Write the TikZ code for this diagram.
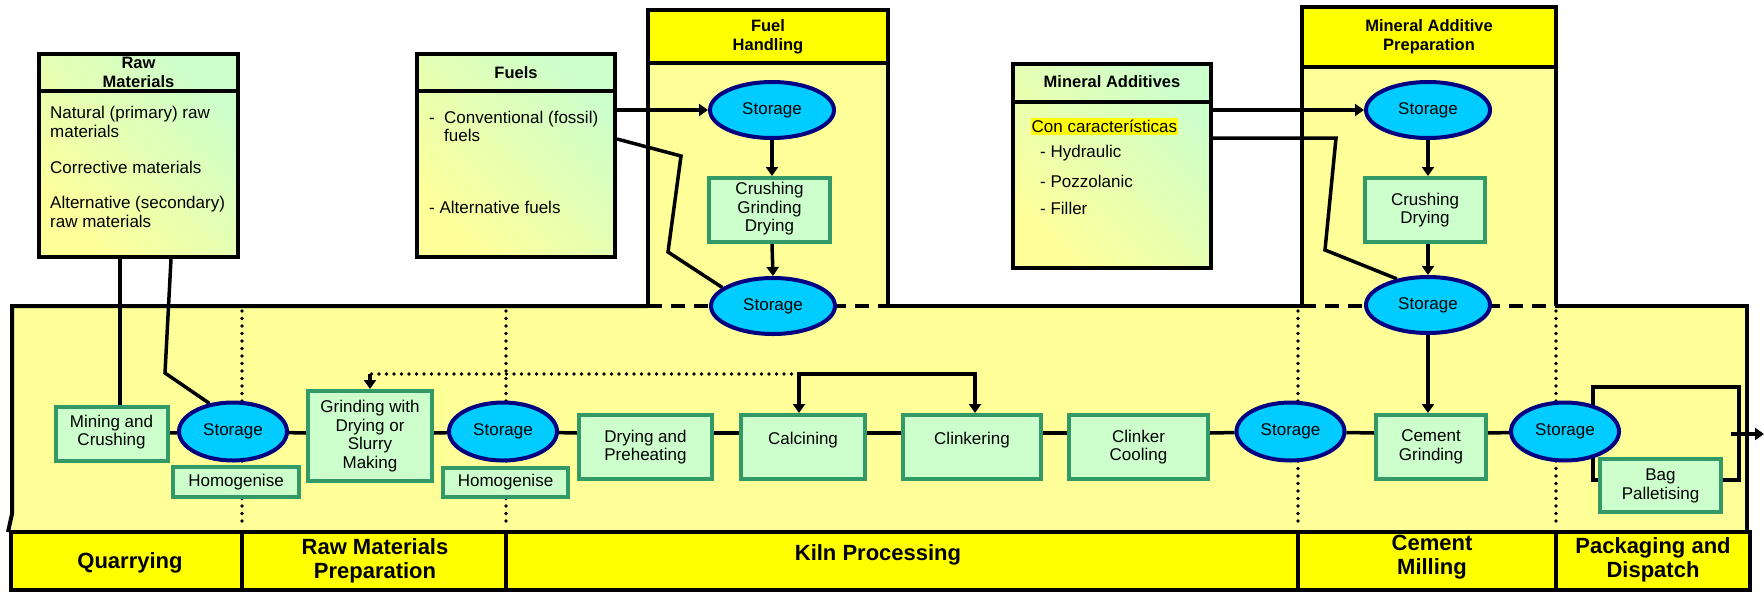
\documentclass[tikz,border=0pt]{standalone}
\usepackage{fontspec}
\setmainfont{Liberation Sans}
\usetikzlibrary{shapes.geometric,arrows.meta,calc}
\pgfdeclarelayer{bg}
\pgfdeclarelayer{mid}
\pgfsetlayers{bg,mid,main}
\definecolor{lyel}{HTML}{FFFF99}
\definecolor{byel}{HTML}{FFFF00}
\definecolor{lgreen}{HTML}{CCFFCC}
\definecolor{bgreen}{HTML}{339966}
\definecolor{cyanf}{HTML}{00CCFF}
\definecolor{navyb}{HTML}{000080}
\newcommand{\txtR}{\fontsize{17}{18.5}\selectfont}
\newcommand{\txtH}{\fontsize{16.5}{19}\selectfont\bfseries}
\newcommand{\txtB}{\fontsize{22}{24}\selectfont\bfseries}
\newcommand{\upstack}[2]{\raisebox{#1}[\height][\depth]{\begin{tabular}{@{}c@{}}#2\end{tabular}}}
\begin{document}
\begin{tikzpicture}[x=1pt,y=-1pt,
  proc/.style={draw=bgreen, fill=lgreen, line width=4pt, inner sep=0pt, align=center, font=\txtR},
  store/.style={ellipse, draw=navyb, fill=cyanf, line width=4pt, inner sep=0pt, minimum width=108pt, minimum height=58pt, font=\txtR},
  bigstore/.style={store, minimum width=124pt, minimum height=56pt},
  srcbox/.style={draw=black, line width=4pt, inner sep=0pt, top color=lgreen, bottom color=lyel, shading angle=-45},
  txt/.style={font=\txtR, inner sep=0pt},
  ltxt/.style={txt, anchor=west, align=left},
  hdr/.style={font=\txtH, align=center, inner sep=0pt},
  bandtxt/.style={font=\txtB, align=center, inner sep=0pt},
  flow/.style={draw=black, line width=3.5pt},
  arr/.style={flow, -{Triangle[length=9pt,width=12pt]}},
  dotl/.style={draw=black, line width=3.8pt, line cap=round, dash pattern=on 0pt off 7.5pt},
  dashl/.style={draw=black, line width=3.5pt, dash pattern=on 14pt off 9pt},
  outl/.style={draw=black, line width=4pt}
]
\useasboundingbox (0,0) rectangle (1764,592);

% ---------- background regions ----------
\begin{pgfonlayer}{bg}
  \fill[lyel] (12,306) rectangle (1747,532);
  \fill[lyel] (648,10) rectangle (888,306);
  \fill[lyel] (1302,7) rectangle (1556,306);
  \fill[byel] (648,10) rectangle (888,63);
  \fill[byel] (1302,7) rectangle (1556,67);
  \fill[byel] (11,532) rectangle (1750,590);
  \draw[outl, line join=miter] (1747,532) -- (1747,306) -- (1556,306);
  \draw[outl] (1302,306) -- (888,306);
  \draw[outl, line join=miter] (648,306) -- (12,306) -- (12,514) -- (8,532);
  \draw[dashl] (648,306) -- (888,306);
  \draw[dashl] (1302,306) -- (1556,306);
  \draw[outl, line join=miter] (648,306) -- (648,10) -- (888,10) -- (888,306);
  \draw[outl] (648,63) -- (888,63);
  \draw[outl, line join=miter] (1302,306) -- (1302,7) -- (1556,7) -- (1556,306);
  \draw[outl] (1302,67) -- (1556,67);
  \draw[outl] (11,532) rectangle (1750,590);
  \foreach \x in {242,506,1298,1556} \draw[outl] (\x,532) -- (\x,590);
  \foreach \x in {242,506,1298,1556} \draw[dotl] (\x,311) -- (\x,528);
\end{pgfonlayer}

% ---------- source boxes ----------
\node[srcbox, minimum width=199pt, minimum height=203pt] (raw) at (138.5,155.5) {};
\node[srcbox, minimum width=198pt, minimum height=203pt] (fuels) at (516,155.5) {};
\node[srcbox, minimum width=198pt, minimum height=204pt] (minad) at (1112,166) {};
\draw[outl] ($(raw.north west)+(0,39)$) -- ($(raw.north east)+(0,39)$);
\draw[outl] ($(fuels.north west)+(0,39)$) -- ($(fuels.north east)+(0,39)$);
\draw[outl] ($(minad.north west)+(0,40)$) -- ($(minad.north east)+(0,40)$);

\node[hdr] (rawh) at (138.5,72.5) {Raw\\Materials};
\node[ltxt] (raw1) at (50,122) {Natural (primary) raw\\materials};
\node[ltxt] (raw2) at (50,167) {Corrective materials};
\node[ltxt] (raw3) at (50,212) {Alternative (secondary)\\raw materials};

\node[hdr] (fuelh) at (516,73) {Fuels};
\node[ltxt] (fuel1) at (429,126.5) {\makebox[15pt][l]{-}Conventional (fossil)\\\hspace*{15pt}fuels};
\node[ltxt] (fuel2) at (429,207) {- Alternative fuels};

\node[hdr] (minh) at (1112,82) {Mineral Additives};
\node[txt, anchor=west, fill=byel, inner xsep=0.5pt, inner ysep=2.5pt] (con) at (1031,126.5) {Con características};
\node[ltxt] (hyd) at (1040,153) {- Hydraulic};
\node[ltxt] (poz) at (1040,181) {- Pozzolanic};
\node[ltxt] (fil) at (1040,208) {- Filler};

% ---------- group headers ----------
\node[hdr] (fhh) at (768,36.5) {Fuel\\Handling};
\node[hdr] (maph) at (1429,37) {Mineral Additive\\Preparation};

% ---------- band ----------
\node[bandtxt] (b1) at (130,563) {Quarrying};
\node[bandtxt] (b2) at (375,561) {Raw Materials\\Preparation};
\node[bandtxt] (b3) at (878,555) {Kiln Processing};
\node[bandtxt] (b4) at (1432,557.5) {Cement\\Milling};
\node[bandtxt] (b5) at (1653,559.5) {Packaging and\\Dispatch};

% ---------- process nodes ----------
\node[proc, minimum width=112pt, minimum height=54pt] (mining) at (111.5,433.5) {\upstack{0.5pt}{Mining and\\Crushing}};
\node[store] (sA) at (233,431.5) {Storage};
\node[proc, minimum width=126pt, minimum height=30pt] (homog1) at (236,482) {Homogenise};
\node[proc, minimum width=124pt, minimum height=90pt] (grind) at (370,436) {Grinding with\\Drying or\\Slurry\\Making};
\node[store] (sB) at (503,431.5) {Storage};
\node[proc, minimum width=125pt, minimum height=29pt] (homog2) at (505.5,482.5) {Homogenise};
\node[proc, minimum width=133pt, minimum height=64pt] (dry) at (645.5,447) {Drying and\\Preheating};
\node[proc, minimum width=124pt, minimum height=64pt] (calc) at (803,447) {\raisebox{7pt}[\height][\depth]{Calcining}};
\node[proc, minimum width=138pt, minimum height=64pt] (clink) at (972,447) {\raisebox{7pt}[\height][\depth]{Clinkering}};
\node[proc, minimum width=139pt, minimum height=64pt] (cool) at (1138.5,447) {Clinker\\Cooling};
\node[store] (sC) at (1290.5,431.5) {Storage};
\node[proc, minimum width=110pt, minimum height=64pt] (cement) at (1431,447) {Cement\\Grinding};
\node[store] (sD) at (1565,431.5) {Storage};
\node[proc, minimum width=121pt, minimum height=53pt] (bag) at (1660.5,485.5) {\upstack{-1pt}{Bag\\Palletising}};

\node[bigstore] (sF1) at (772,110) {Storage};
\node[proc, minimum width=121pt, minimum height=64pt] (fcrush) at (769.5,210) {\upstack{0.5pt}{Crushing\\Grinding\\Drying}};
\node[bigstore] (sF2) at (773,306) {Storage};
\node[bigstore] (sM1) at (1428,110) {Storage};
\node[proc, minimum width=120pt, minimum height=64pt] (mcrush) at (1425,210) {Crushing\\Drying};
\node[bigstore] (sM2) at (1428,305) {Storage};

% ---------- helper coordinates ----------
\coordinate (fl) at (0,433);
\coordinate (r1) at (120,0);
\coordinate (r2) at (171,0);
\coordinate (r2a) at (165,373);
\coordinate (fa) at (0,139);
\coordinate (fb) at (681,156);
\coordinate (fc) at (668,252);
\coordinate (ma) at (0,138);
\coordinate (mb) at (1336,138);
\coordinate (mc) at (1325,250);
\coordinate (fbl) at (799,374);
\coordinate (fbr) at (975,374);
\coordinate (ly) at (0,480);
\coordinate (lpL) at (1593,387);
\coordinate (lpR) at (1739,480);
\coordinate (o1) at (1731,434);
\coordinate (o2) at (1764,434);

% ---------- connectors ----------
\begin{pgfonlayer}{mid}
  \draw[flow] (raw.south -| r1) -- (mining.north -| r1);
  \draw[flow, line join=miter] (raw.south -| r2) -- (r2a) -- (sA.130);

  \draw[arr] (fuels.east |- sF1.west) -- (sF1.west);
  \draw[flow, line join=miter] (fuels.east |- fa) -- (fb) -- (fc) -- (sF2.160);
  \draw[arr] (sF1.south) -- (sF1.south |- fcrush.north);
  \draw[arr] (fcrush.south -| sF1.south) -- (sF2.north);

  \draw[arr] (minad.east |- sM1.west) -- (sM1.west);
  \draw[flow, line join=miter] (minad.east |- ma) -- (mb) -- (mc) -- (sM2.140);
  \draw[arr] (sM1.south) -- (sM1.south |- mcrush.north);
  \draw[arr] (mcrush.south -| sM1.south) -- (sM2.north);
  \draw[arr] (sM2.south) -- (sM2.south |- cement.north);

  \draw[flow, line join=miter, {Triangle[length=9pt,width=12pt]}-{Triangle[length=9pt,width=12pt]}] (calc.north -| fbl) -- (fbl) -- (fbr) -- (clink.north -| fbr);
  \draw[dotl] (fbl) -- (fbl -| grind.north);
  \draw[arr] (fbl -| grind.north) -- (grind.north);

  \draw[flow] (mining.east |- fl) -- (sA);
  \draw[flow] (sA) -- (grind.west |- fl);
  \draw[flow] (grind.east |- fl) -- (sB);
  \draw[flow] (sB) -- (dry.west |- fl);
  \draw[flow] (dry.east |- fl) -- (calc.west |- fl);
  \draw[flow] (calc.east |- fl) -- (clink.west |- fl);
  \draw[flow] (clink.east |- fl) -- (cool.west |- fl);
  \draw[flow] (cool.east |- fl) -- (sC);
  \draw[flow] (sC) -- (cement.west |- fl);
  \draw[flow] (cement.east |- fl) -- (sD);

  \draw[flow, line join=miter] (bag.east |- ly) -- (lpR) |- (lpL) -- (lpL |- ly) -- (bag.west |- ly);
  \draw[arr] (o1) -- (o2);
\end{pgfonlayer}
\end{tikzpicture}
\end{document}
